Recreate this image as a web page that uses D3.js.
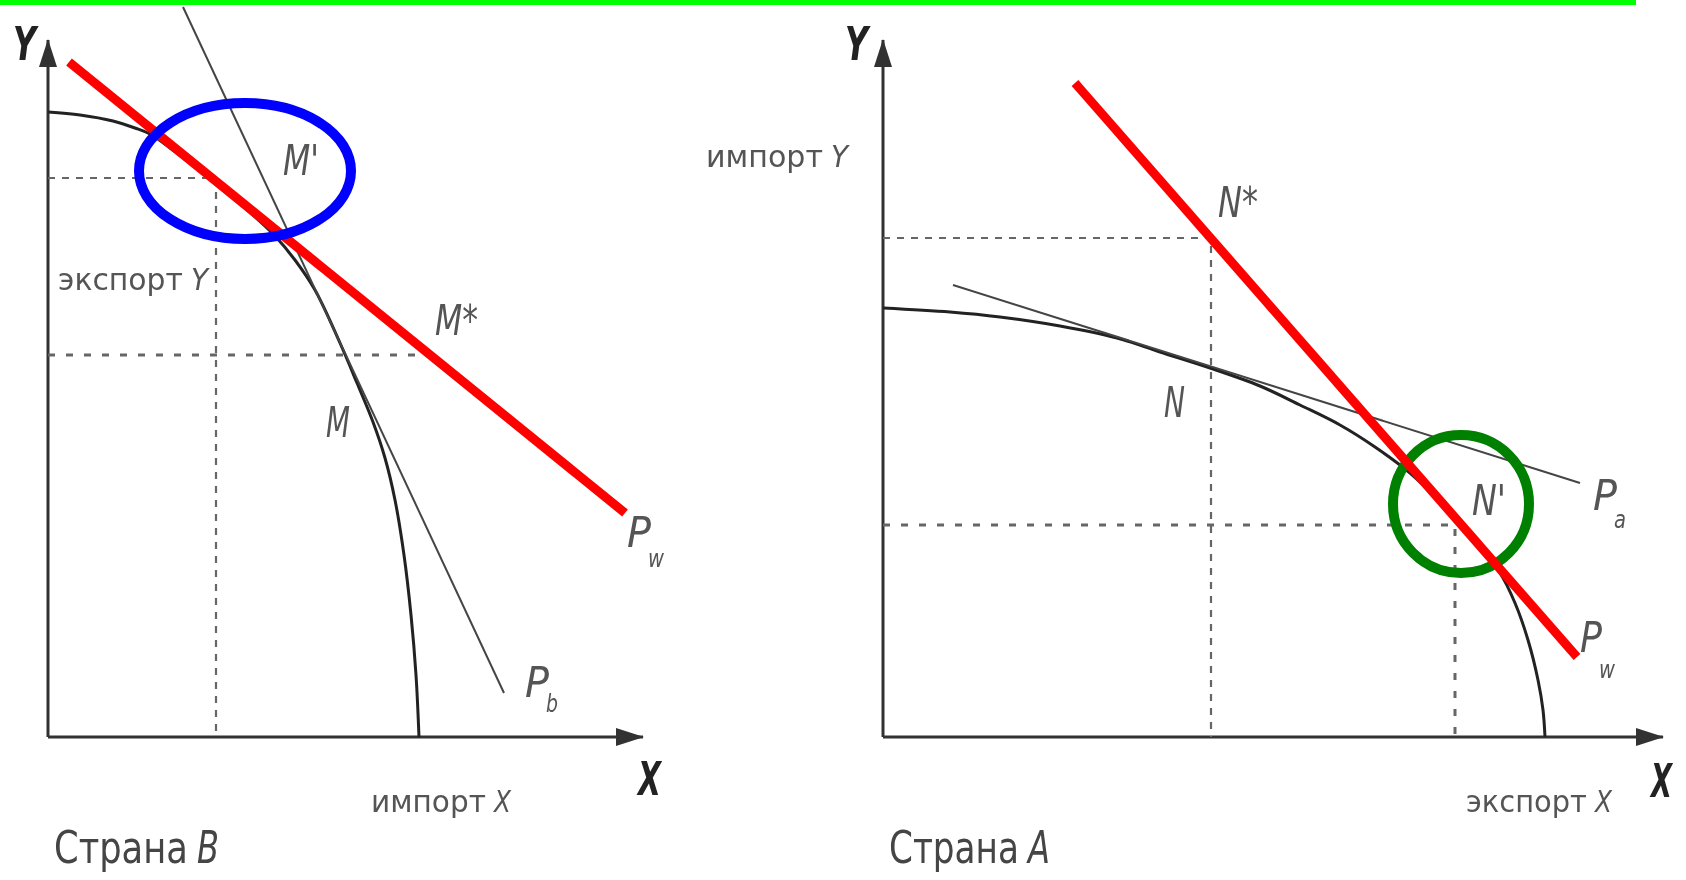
<html>
<script src='https://d3js.org/d3.v7.min.js'></script>
<body style="margin:0; background:#fff;">
<svg width=1686 height=880></svg>
<script>

// units: both panels use the same grid, 1 unit = 10 px of the figure
// ---- Страна B ----
var axisLenB = [59.5, 69.7];   // x arrow, y arrow
var ppfB = [[0,62.5],[3.2,62.2],[6.5,61.6],[8.7,60.9],[10.2,60.3],[12.2,58.9],[15.2,56.6],[18.2,54.2],
            [20.7,52.0],[22.7,50.1],[24.7,47.7],[26.7,44.7],[29.2,39.4],[30.9,35.4],[32.5,31.5],
            [33.7,27.9],[34.7,23.7],[35.6,18.2],[36.3,12.2],[36.8,6.2],[37.1,0]];
var priceB = [[13.5,73.0],[45.6,4.4]];          // Pb
var worldB = [[2.1,67.5],[57.7,22.4]];          // Pw
var guideB1 = [[0,55.9],[16.8,55.9],[16.8,0]];  // dashed, production point
var guideB2 = [[0,38.2],[36.9,38.2]];           // dotted, consumption
var ringB = {cx:19.7, cy:56.6, rx:10.6, ry:6.8};
var labelsB = [
  {t:"Y", x:-3.5, y:67.7, w:2.3, k:"axis"},
  {t:"X", x:59.0, y:-5.8, w:2.3, k:"axis"},
  {t:"M'", x:23.5, y:56.2, w:3.6, k:"pt"},
  {t:"M*", x:38.7, y:40.2, w:4.3, k:"pt"},
  {t:"M", x:27.8, y:30.0, w:2.4, k:"pt"},
  {t:"P", x:57.9, y:19.0, w:2.4, k:"pt"},
  {t:"w", x:60.0, y:17.0, w:1.6, k:"sub"},
  {t:"P", x:47.7, y:4.0, w:2.4, k:"pt"},
  {t:"b", x:49.8, y:2.5, w:1.2, k:"sub"},
  {t:"экспорт Y", x:1.0, y:44.7, w:15.0, k:"word"},
  {t:"импорт X", x:32.3, y:-7.5, w:14.0, k:"word"},
  {t:"Страна B", x:0.6, y:-12.6, w:16.5, k:"title"}
];

// ---- Страна A ----
var axisLenA = [78.0, 69.7];
var ppfA = [[0,42.9],[6.7,42.5],[11.7,42.0],[17.7,41.1],[23.4,39.9],[27.7,38.5],[32.7,36.9],[37.7,35.1],
            [41.7,33.2],[45.7,31.2],[49.2,29.0],[52.7,26.4],[55.7,23.5],[58.7,20.1],[61.7,16.4],
            [63.2,13.4],[64.5,9.7],[65.5,5.7],[66.0,2.7],[66.2,0]];
var priceA = [[7.0,45.2],[69.7,25.4]];          // Pa
var worldA = [[19.2,65.4],[69.4,8.0]];          // Pw
var guideA1 = [[0,49.9],[32.8,49.9],[32.8,0]];
var guideA2 = [[0,21.2],[57.2,21.2],[57.2,0]];
var ringA = {cx:57.8, cy:23.3, rx:6.8, ry:6.9};
var labelsA = [
  {t:"Y", x:-3.8, y:67.7, w:2.3, k:"axis"},
  {t:"X", x:76.8, y:-6.0, w:2.1, k:"axis"},
  {t:"импорт Y", x:-17.7, y:57.0, w:14.2, k:"word"},
  {t:"N*", x:33.5, y:52.0, w:4.0, k:"pt"},
  {t:"N", x:28.1, y:32.0, w:2.1, k:"pt"},
  {t:"N'", x:58.9, y:22.2, w:3.4, k:"pt"},
  {t:"P", x:71.0, y:22.7, w:2.4, k:"pt"},
  {t:"a", x:73.1, y:20.9, w:1.2, k:"sub"},
  {t:"P", x:69.7, y:8.5, w:2.2, k:"pt"},
  {t:"w", x:71.6, y:5.9, w:1.6, k:"sub"},
  {t:"экспорт X", x:58.3, y:-7.5, w:14.6, k:"word"},
  {t:"Страна A", x:0.6, y:-12.6, w:16.1, k:"title"}
];

var svg = d3.select('svg');
var defs = svg.append('defs');
defs.append('filter').attr('id', 'soft')
    .append('feGaussianBlur').attr('stdDeviation', 0.7);
defs.append('marker').attr('id', 'arrow')
    .attr('viewBox', '0 -10 28 20').attr('refX', 27).attr('refY', 0)
    .attr('markerUnits', 'userSpaceOnUse').attr('markerWidth', 28).attr('markerHeight', 20)
    .attr('orient', 'auto')
  .append('path').attr('d', 'M0,-9L28,0L0,9Z').attr('fill', '#333');

svg.append('rect').attr('x', 0).attr('y', 0).attr('width', 1636).attr('height', 5).attr('fill', '#00ff00');

var fontSizes = {axis: 46, pt: 42, sub: 24, word: 30, title: 44};
var tailWidth = {word: 1.7, title: 2.2};   // italic letter at the end of a caption
var tailGap = {word: 0.8, title: 0.9};

function panel(x0, p) {
    var x = d3.scaleLinear().domain([0, 10]).range([x0, x0 + 100]);
    var y = d3.scaleLinear().domain([0, 10]).range([737, 637]);
    var line = d3.line().x(d => x(d[0])).y(d => y(d[1]));
    var g = svg.append('g').attr('filter', 'url(#soft)');

    g.append('path').attr('d', line([[0,0],[p.axis[0],0]]))
        .attr('stroke', '#333').attr('stroke-width', 3).attr('fill', 'none').attr('marker-end', 'url(#arrow)');
    g.append('path').attr('d', line([[0,0],[0,p.axis[1]]]))
        .attr('stroke', '#333').attr('stroke-width', 3).attr('fill', 'none').attr('marker-end', 'url(#arrow)');

    g.append('path').attr('d', line(p.guide1))
        .attr('stroke', '#666').attr('stroke-width', 2.2).attr('stroke-dasharray', '7,7').attr('fill', 'none');
    g.append('path').attr('d', line(p.guide2))
        .attr('stroke', '#666').attr('stroke-width', 3).attr('stroke-dasharray', '7,11').attr('fill', 'none');

    g.append('path').attr('d', line.curve(d3.curveCatmullRom.alpha(0.5))(p.ppf))
        .attr('stroke', '#222').attr('stroke-width', 3).attr('fill', 'none');
    line.curve(d3.curveLinear);
    g.append('path').attr('d', line(p.price))
        .attr('stroke', '#444').attr('stroke-width', 2).attr('fill', 'none');

    // split captions into an upright word and an italic letter
    var parts = [];
    p.labels.forEach(function(d) {
        if (d.k == 'word' || d.k == 'title') {
            var s = d.t.split(' '), lw = tailWidth[d.k];
            parts.push({t: s[0], x: d.x, y: d.y, w: d.w - lw - tailGap[d.k], k: d.k, it: false});
            parts.push({t: s[1], x: d.x + d.w - lw, y: d.y, w: lw, k: d.k, it: true});
        } else {
            parts.push({t: d.t, x: d.x, y: d.y, w: d.w, k: d.k, it: true});
        }
    });

    // the lettering of the figure is narrow: squeeze each text to its width
    g.selectAll('text.lbl').data(parts).join('text')
        .attr('class', 'lbl')
        .attr('font-family', 'DejaVu Sans, sans-serif')
        .attr('font-size', d => fontSizes[d.k])
        .attr('font-weight', d => d.k == 'axis' ? 'bold' : 'normal')
        .attr('font-style', d => d.it ? 'italic' : 'normal')
        .attr('fill', d => d.k == 'axis' ? '#222' : (d.k == 'title' ? '#444' : '#555'))
        .text(d => d.t)
        .attr('transform', function(d) {
            var sx = (x(d.w) - x(0)) / this.getComputedTextLength();
            return 'translate(' + x(d.x) + ',' + y(d.y) + ') scale(' + sx + ',1)';
        });

    return {x: x, y: y, line: line, ring: p.ring, world: p.world};
}

var pB = panel(48, {axis: axisLenB, ppf: ppfB, price: priceB, guide1: guideB1, guide2: guideB2, labels: labelsB, ring: ringB, world: worldB});
var pA = panel(883, {axis: axisLenA, ppf: ppfA, price: priceA, guide1: guideA1, guide2: guideA2, labels: labelsA, ring: ringA, world: worldA});

function ring(p, color) {
    svg.append('ellipse')
        .attr('cx', p.x(p.ring.cx)).attr('cy', p.y(p.ring.cy))
        .attr('rx', p.x(p.ring.cx + p.ring.rx) - p.x(p.ring.cx))
        .attr('ry', p.y(p.ring.cy) - p.y(p.ring.cy + p.ring.ry))
        .attr('fill', 'none').attr('stroke', color).attr('stroke-width', 10);
}
function world(p) {
    svg.append('path').attr('d', p.line(p.world))
        .attr('stroke', '#ff0000').attr('stroke-width', 9).attr('fill', 'none');
}

ring(pA, '#008000');
world(pB);
world(pA);
ring(pB, '#0000ff');

</script>
</body>
</html>
